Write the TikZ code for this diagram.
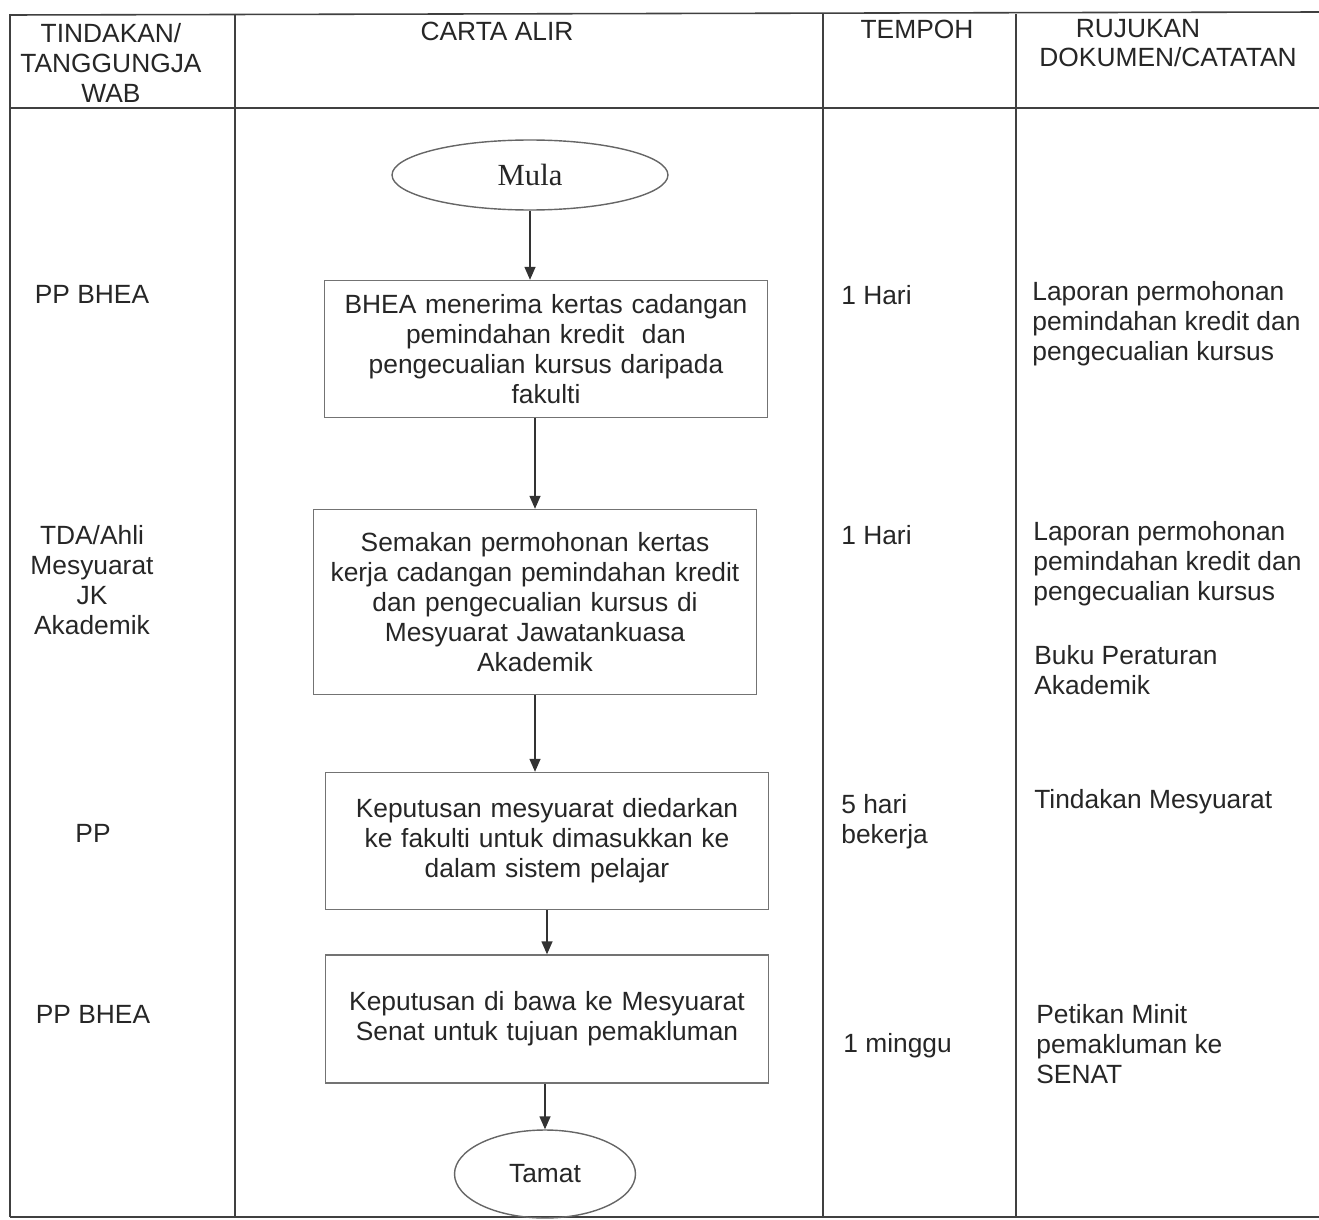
\documentclass[tikz,border=0pt]{standalone}
\usepackage{fontspec}
\setmainfont{Liberation Sans}
\newfontfamily\serifmula{Liberation Serif}
\usetikzlibrary{shapes.geometric, arrows.meta}
\tikzset{> = {Triangle[length=2.6mm, width=2.2mm]}}
\tikzset{
  rule/.style = {draw=black!75, line width=0.9pt},
  cell/.style = {text=black!85, inner sep=0pt, font=\fontsize{15}{17.07}\selectfont},
  proc/.style = {rectangle, draw=black!55, line width=0.8pt, text=black!85, align=center,
                 text width=8.3cm, minimum width=8.86cm, font=\fontsize{15}{17.07}\selectfont},
  term/.style = {ellipse, draw=black!60, line width=0.8pt, inner sep=0pt},
  flow/.style = {->, draw=black!80, line width=0.8pt}
}

\begin{document}
\begin{tikzpicture}[x=0.02cm, y=-0.02cm]
\useasboundingbox (0,0) rectangle (1319,1220);
% table
\draw[rule] (10,15) -- (1319,12);
\draw[rule] (10,108) -- (1319,108);
\draw[rule] (10,1217) -- (1319,1217);
\foreach \x in {10,235,823,1016} \draw[rule] (\x,14) -- (\x,1217);

% header
\node[cell, align=center] (hTindakan) at (111,63) {TINDAKAN/\\TANGGUNGJA\\WAB};
\node[cell] (hCarta) at (497,31) {CARTA ALIR};
\node[cell] (hTempoh) at (917,29) {TEMPOH};
\node[cell] (hRujukan) at (1138,29) {RUJUKAN};
\node[cell] (hDokumen) at (1168,57) {DOKUMEN/CATATAN};

% tindakan column
\node[cell] (who1) at (92,294) {PP BHEA};
\node[cell, align=center] (who2) at (92,580) {TDA/Ahli\\Mesyuarat\\JK\\Akademik};
\node[cell] (who3) at (93,833) {PP};
\node[cell] (who4) at (93,1014) {PP BHEA};

% tempoh column
\node[cell, anchor=west] (time1) at (841,295) {1 Hari};
\node[cell, anchor=west] (time2) at (841,535) {1 Hari};
\node[cell, anchor=west, align=left] (time3) at (841,822) {5 hari\\bekerja};
\node[cell, anchor=west] (time4) at (843,1046) {1 minggu};

% rujukan column
\node[cell, anchor=west, align=left] (ref1) at (1032,324) {Laporan permohonan\\pemindahan kredit dan\\pengecualian kursus};
\node[cell, anchor=west, align=left] (ref2) at (1033,564) {Laporan permohonan\\pemindahan kredit dan\\pengecualian kursus};
\node[cell, anchor=west, align=left] (ref3) at (1034,670) {Buku Peraturan\\Akademik};
\node[cell, anchor=west] (ref4) at (1034,802) {Tindakan Mesyuarat};
\node[cell, anchor=west, align=left] (ref5) at (1036,1044) {Petikan Minit\\pemakluman ke\\SENAT};

% carta alir
\node[term, minimum width=5.52cm, minimum height=1.4cm, text=black!85,
      font=\serifmula\fontsize{17.5}{20}\selectfont] (mula) at (530,175) {Mula};
\node[proc, minimum height=2.74cm] (kertas) at (546,349)
  {BHEA menerima kertas cadangan\\pemindahan kredit\ \ dan\\pengecualian kursus daripada\\fakulti};
\node[proc, minimum height=3.7cm] (semak) at (535,602)
  {Semakan permohonan kertas\\kerja cadangan pemindahan kredit\\dan pengecualian kursus di\\Mesyuarat Jawatankuasa\\Akademik};
\node[proc, minimum height=2.74cm] (edar) at (547,841)
  {Keputusan mesyuarat diedarkan\\ke fakulti untuk dimasukkan ke\\dalam sistem pelajar};
\node[proc, minimum height=2.56cm] (senat) at (547,1019)
  {Keputusan di bawa ke Mesyuarat\\Senat untuk tujuan pemakluman};
\node[term, cell, minimum width=3.62cm, minimum height=1.76cm] (tamat) at (545,1174) {Tamat};

% edges
\draw[flow] (mula) -- (mula |- kertas.north);
\draw[flow] (semak |- kertas.south) -- (semak.north);
\draw[flow] (semak.south) -- (semak |- edar.north);
\draw[flow] (edar) -- (senat);
\draw[flow] (tamat |- senat.south) -- (tamat.north);

\end{tikzpicture}
\end{document}
